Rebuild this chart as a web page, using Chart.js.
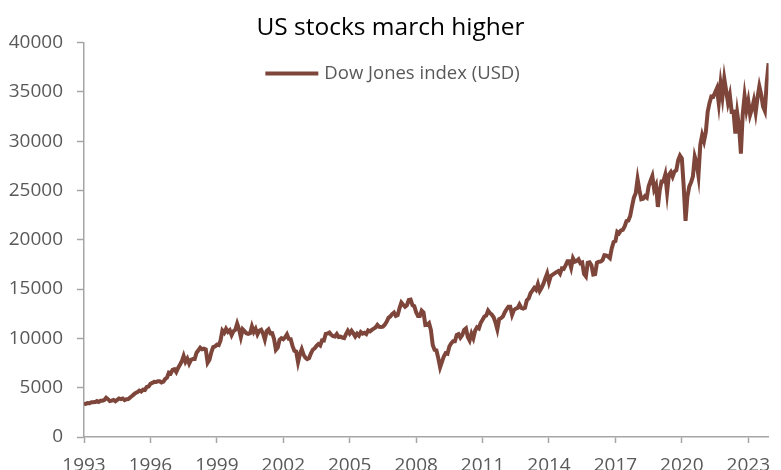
<!DOCTYPE html>
<html lang="en">
<head>
    <meta charset="UTF-8">
    <title>US stocks march higher</title>
    <script src="https://cdn.jsdelivr.net/npm/chart.js"></script>
    <style>
        body {
            margin: 0;
            background: #ffffff;
        }

        #wrap {
            width: 781px;
            height: 470px;
        }
    </style>
</head>
<body>
    <div id="wrap">
        <canvas id="dowChart" width="781" height="470"></canvas>
    </div>

    <script>
        // month-end closes, Jan 1993 onwards
        const startYear = 1993;
        const dow1990s = [
            3310, 3370, 3435, 3428, 3527, 3516, 3539, 3651, 3555, 3681, 3684, 3754,
            3978, 3832, 3636, 3682, 3758, 3625, 3765, 3913, 3843, 3908, 3739, 3834,
            3844, 4011, 4158, 4321, 4465, 4556, 4709, 4611, 4789, 4756, 5075, 5117,
            5395, 5486, 5588, 5569, 5643, 5655, 5529, 5616, 5882, 6029, 6522, 6448,
            6813, 6878, 6584, 7009, 7331, 7673, 8223, 7622, 7945, 7442, 7823, 7908,
            7907, 8546, 8800, 9063, 8900, 8952, 8883, 7539, 7843, 8592, 9117, 9181,
            9359, 9307, 9786, 10789, 10560, 10971, 10655, 10829, 10337, 10729, 10878, 11497
        ];
        const dow2000s = [
            10941, 10128, 10922, 10734, 10522, 10448, 10522, 11215, 10651, 10971, 10415, 10787,
            10887, 10495, 9879, 10735, 10912, 10502, 10523, 9950, 8848, 9075, 9852, 10022,
            9920, 10106, 10404, 9946, 9925, 9243, 8737, 8664, 7592, 8397, 8896, 8342,
            8054, 7891, 7992, 8480, 8850, 8985, 9234, 9416, 9275, 9801, 9782, 10454,
            10488, 10584, 10358, 10226, 10188, 10435, 10140, 10174, 10080, 10027, 10428, 10783,
            10490, 10766, 10504, 10193, 10467, 10275, 10641, 10482, 10569, 10440, 10806, 10718,
            10865, 10993, 11109, 11367, 11168, 11150, 11186, 11381, 11679, 12081, 12221, 12463,
            12622, 12269, 12354, 13063, 13628, 13409, 13212, 13358, 13896, 13930, 13372, 13265,
            12650, 12266, 12263, 12820, 12638, 11350, 11378, 11544, 10851, 9325, 8829, 8776,
            8001, 7063, 7609, 8168, 8500, 8447, 9172, 9496, 9712, 9713, 10345, 10428
        ];
        const dow2010s = [
            10067, 10325, 10857, 11009, 10137, 9774, 10466, 10015, 10788, 11118, 11006, 11578,
            11892, 12226, 12320, 12811, 12570, 12414, 12143, 11614, 10913, 11955, 12046, 12218,
            12633, 12952, 13212, 13214, 12393, 12880, 13009, 13091, 13437, 13096, 13026, 13104,
            13861, 14054, 14579, 14840, 15116, 14910, 15500, 14810, 15130, 15546, 16086, 16577,
            15699, 16322, 16458, 16581, 16717, 16827, 16563, 17098, 17043, 17391, 17828, 17823,
            17165, 18133, 17776, 17841, 18011, 17620, 17690, 16528, 16285, 17664, 17720, 17425,
            16466, 16517, 17685, 17774, 17787, 17930, 18432, 18401, 18308, 18142, 19124, 19763,
            19864, 20812, 20663, 20941, 21009, 21350, 21891, 21948, 22405, 23377, 24272, 24719,
            26149, 25029, 24103, 24163, 24416, 24271, 25415, 25965, 26458, 25116, 25538, 23327,
            24999, 25916, 25929, 26593, 24815, 26600, 26864, 26403, 26917, 27046, 28051, 28538
        ];
        const dow2020s = [
            28256, 25409, 21917, 24346, 25383, 25813, 26428, 28430, 27782, 26502, 29638, 30606,
            29983, 30932, 32982, 33875, 34529, 34503, 34935, 35361, 33844, 35820, 34484, 36338,
            35132, 33893, 34678, 32977, 32990, 30775, 32845, 31510, 28726, 32733, 34590, 33147,
            34086, 32657, 33274, 34098, 32908, 34408, 35560, 34722, 33508, 33053, 35951, 37900
        ];
        const tickYears = [1993, 1996, 1999, 2002, 2005, 2008, 2011, 2014, 2017, 2020, 2023];
        const yTicks = [0, 5000, 10000, 15000, 20000, 25000, 30000, 35000, 40000];

        const seriesName = 'Dow Jones index (USD)';
        const lineColor = '#7E463B';
        const axisColor = '#A6A6A6';
        const textColor = '#595959';
        const fontFamily = 'Open Sans';

        const dowValues = dow1990s.concat(dow2000s, dow2010s, dow2020s);
        const points = dowValues.map((v, i) => ({ x: startYear + i / 12, y: v }));

        // legend drawn over the plot, a bit left of the plot centre
        const lineLegend = {
            id: 'lineLegend',
            afterDraw(chart) {
                const ctx = chart.ctx;
                const cx = chart.width / 2 + 2;
                const y = chart.chartArea.top + 31;
                ctx.save();
                ctx.font = '18.5px "' + fontFamily + '"';
                const tw = ctx.measureText(seriesName).width;
                const total = 53 + 6 + tw;
                const x0 = cx - total / 2;
                ctx.strokeStyle = lineColor;
                ctx.lineWidth = 4;
                ctx.beginPath();
                ctx.moveTo(x0, y);
                ctx.lineTo(x0 + 53, y);
                ctx.stroke();
                ctx.fillStyle = textColor;
                ctx.textBaseline = 'middle';
                ctx.fillText(seriesName, x0 + 59, y);
                ctx.restore();
            }
        };

        new Chart(document.getElementById('dowChart').getContext('2d'), {
            type: 'line',
            data: {
                datasets: [{
                    label: seriesName,
                    data: points,
                    borderColor: lineColor,
                    backgroundColor: lineColor,
                    borderWidth: 4,
                    pointRadius: 0,
                    tension: 0,
                }],
            },
            options: {
                responsive: false,
                animation: false,
                layout: { padding: 0 },
                plugins: {
                    legend: { display: false },
                    tooltip: { enabled: false },
                    title: {
                        display: true,
                        text: 'US stocks march higher',
                        color: '#000000',
                        font: { family: fontFamily, size: 24.5, weight: 'normal', lineHeight: 1 },
                        padding: { top: 16, bottom: 2 },
                    },
                },
                scales: {
                    x: {
                        type: 'linear',
                        min: startYear,
                        max: startYear + (dowValues.length - 1) / 12,
                        afterBuildTicks: s => { s.ticks = tickYears.map(v => ({ value: v })); },
                        afterFit: s => { s.height = 33; },
                        ticks: {
                            color: textColor,
                            font: { family: fontFamily, size: 19 },
                            padding: 11,
                            maxRotation: 0,
                            callback: v => String(v),
                        },
                        grid: {
                            drawOnChartArea: false,
                            drawTicks: true,
                            tickLength: 6,
                            tickColor: axisColor,
                            tickWidth: 1.5,
                        },
                        border: { display: true, color: axisColor, width: 1.5 },
                    },
                    y: {
                        min: 0,
                        max: 40000,
                        afterBuildTicks: s => { s.ticks = yTicks.map(v => ({ value: v })); },
                        afterFit: s => { s.width = 84; },
                        ticks: {
                            color: textColor,
                            font: { family: fontFamily, size: 19 },
                            padding: 14,
                            callback: v => String(v),
                        },
                        grid: {
                            drawOnChartArea: false,
                            drawTicks: true,
                            tickLength: 7,
                            tickColor: axisColor,
                            tickWidth: 1.5,
                        },
                        border: { display: true, color: axisColor, width: 1.5 },
                    },
                },
            },
            plugins: [lineLegend],
        });
    </script>
</body>
</html>
